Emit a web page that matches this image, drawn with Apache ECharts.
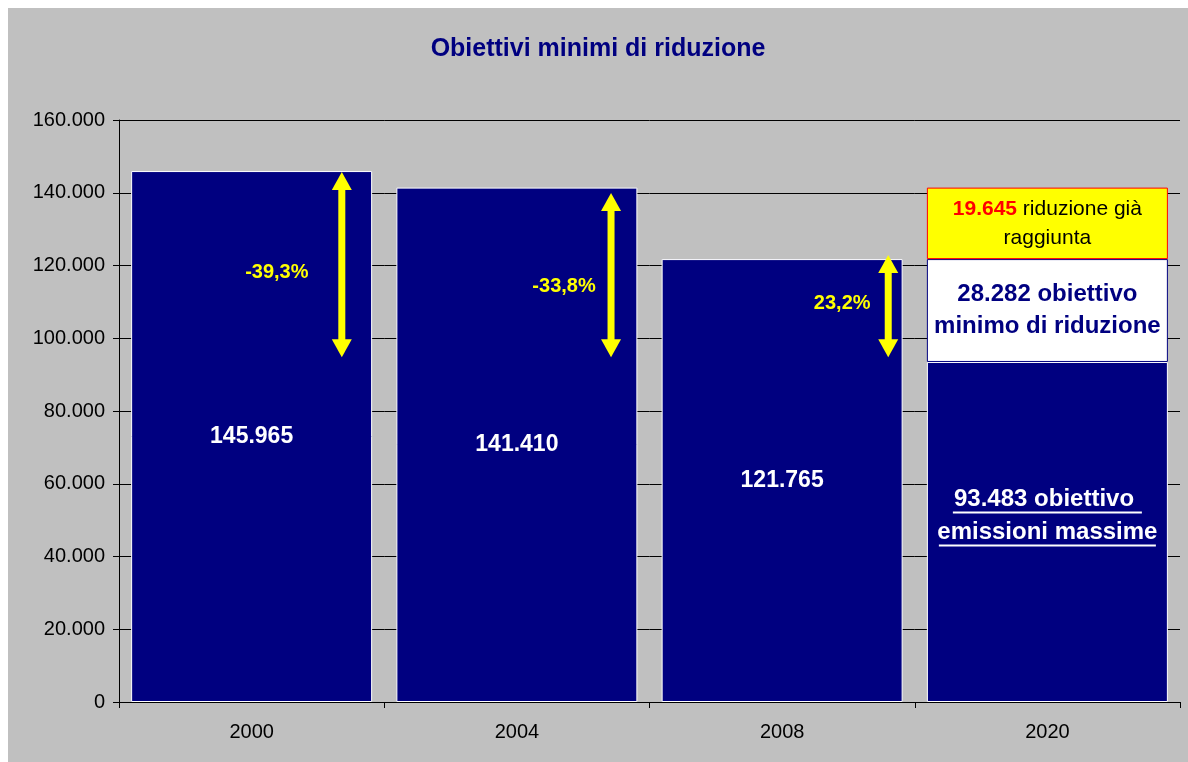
<!DOCTYPE html>
<html>
<head>
<meta charset="utf-8">
<title>Obiettivi minimi di riduzione</title>
<script src="https://cdn.jsdelivr.net/npm/echarts@6/dist/echarts.min.js"></script>
<style>
  body { margin: 0; background: #fff; }
  #main { position: absolute; left: 8px; top: 8px; width: 1180px; height: 754px; }
</style>
</head>
<body>
<div id="main"></div>
<script type="text/javascript">
// dati
var anni = ['2000', '2004', '2008', '2020'];
var emissioni = [145965, 141410, 121765, 93483];   // barre blu (2020 = obiettivo emissioni massime)
var obiettivoMinimo = [null, null, null, 28282];  // parte bianca 2020
var riduzioneGia = [null, null, null, 19645];     // parte gialla 2020
var frecciaDa = [145700, 139900, 122900];
var frecciaA = [94800, 94800, 94800];
var percentuali = ['-39,3%', '-33,8%', '23,2%'];

// posizione delle frecce dentro la barra (frazione della banda) e delle etichette
var frecciaShift = [0.34, 0.355, 0.40];
var pctOffset = [[-65, 8], [-47, 11], [-46, -3]];

var FONT = "'Liberation Sans', Arial, sans-serif";
var BLU = '#000080';

function fmt(n) {
    return String(n).replace(/\B(?=(\d{3})+(?!\d))/g, '.');
}

var frecce = [];
for (var i = 0; i < frecciaDa.length; i++) {
    frecce.push([i, frecciaDa[i], frecciaA[i], percentuali[i]]);
}

var myChart = echarts.init(document.getElementById('main'));
var option = {
    backgroundColor: '#C0C0C0',
    animation: false,
    title: {
        text: 'Obiettivi minimi di riduzione',
        left: 'center',
        top: 24,
        textStyle: { color: BLU, fontSize: 25, fontWeight: 'bold', fontFamily: FONT }
    },
    grid: { left: 111, right: 8, top: 112, bottom: 60, containLabel: false },
    xAxis: {
        type: 'category',
        data: anni,
        axisLine: { lineStyle: { color: '#000', width: 1 } },
        axisTick: { show: true, length: 6, lineStyle: { color: '#000' } },
        axisLabel: { color: '#000', fontSize: 20, fontFamily: FONT, margin: 20 }
    },
    yAxis: {
        type: 'value',
        min: 0,
        max: 160000,
        interval: 20000,
        axisLine: { show: true, lineStyle: { color: '#000', width: 1 } },
        axisTick: { show: true, length: 6, lineStyle: { color: '#000' } },
        axisLabel: {
            color: '#000', fontSize: 20, fontFamily: FONT, margin: 14,
            formatter: function (v) { return fmt(v); }
        },
        splitLine: { show: true, lineStyle: { color: '#000', width: 1 } }
    },
    series: [
        {
            type: 'bar',
            stack: 'tot',
            barWidth: 241,
            data: emissioni,
            itemStyle: { color: BLU, borderColor: '#fff', borderWidth: 1 },
            label: {
                show: true,
                position: 'inside',
                color: '#fff',
                fontSize: 23,
                fontWeight: 'bold',
                fontFamily: FONT,
                formatter: function (p) {
                    if (p.dataIndex === 3) {
                        return '{t|' + fmt(p.value) + ' obiettivo }\n{u1|}\n{t|emissioni massime}\n{u2|}';
                    }
                    return fmt(p.value);
                },
                rich: {
                    t: { color: '#fff', fontSize: 24, fontWeight: 'bold', fontFamily: FONT, lineHeight: 24 },
                    u1: { width: 189, height: 2, lineHeight: 9, backgroundColor: '#fff', verticalAlign: 'top' },
                    u2: { width: 217, height: 2, lineHeight: 4, backgroundColor: '#fff', verticalAlign: 'top' }
                }
            },
            labelLayout: function (p) {
                if (p.dataIndex === 3) {
                    return { dy: -14 };
                }
            }
        },
        {
            type: 'bar',
            stack: 'tot',
            data: obiettivoMinimo,
            itemStyle: { color: '#fff', borderColor: BLU, borderWidth: 1 },
            label: {
                show: true,
                position: 'inside',
                color: BLU,
                fontSize: 24,
                fontWeight: 'bold',
                fontFamily: FONT,
                lineHeight: 32,
                formatter: function (p) {
                    return fmt(p.value) + ' obiettivo\nminimo di riduzione';
                }
            }
        },
        {
            type: 'bar',
            stack: 'tot',
            data: riduzioneGia,
            itemStyle: { color: '#FFFF00', borderColor: '#FF0000', borderWidth: 1 },
            label: {
                show: true,
                position: 'inside',
                formatter: function (p) {
                    return '{r|' + fmt(p.value) + '}{k| riduzione già}\n{k|raggiunta}';
                },
                rich: {
                    r: { color: '#FF0000', fontSize: 21, fontWeight: 'bold', fontFamily: FONT, lineHeight: 29 },
                    k: { color: '#000', fontSize: 21, fontFamily: FONT, lineHeight: 29 }
                }
            }
        },
        {
            type: 'custom',
            data: frecce,
            z: 10,
            renderItem: function (params, api) {
                var i = params.dataIndex;
                var c = api.value(0);
                var pTop = api.coord([c, api.value(1)]);
                var pBot = api.coord([c, api.value(2)]);
                var band = api.size([1, 0])[0];
                var x = pTop[0] + band * frecciaShift[i];
                var y1 = pTop[1], y2 = pBot[1];
                var hw = 10, hh = 18, sw = 3.5;
                var yellow = { fill: '#FFFF00' };
                return {
                    type: 'group',
                    children: [
                        { type: 'rect', shape: { x: x - sw, y: y1 + hh - 1, width: sw * 2, height: (y2 - y1) - 2 * hh + 2 }, style: yellow },
                        { type: 'polygon', shape: { points: [[x, y1], [x - hw, y1 + hh], [x + hw, y1 + hh]] }, style: yellow },
                        { type: 'polygon', shape: { points: [[x, y2], [x - hw, y2 - hh], [x + hw, y2 - hh]] }, style: yellow },
                        {
                            type: 'text',
                            style: {
                                text: api.value(3),
                                x: x + pctOffset[i][0],
                                y: (y1 + y2) / 2 + pctOffset[i][1],
                                fill: '#FFFF00',
                                font: 'bold 20px ' + FONT,
                                align: 'center',
                                verticalAlign: 'middle'
                            }
                        }
                    ]
                };
            }
        }
    ]
};
myChart.setOption(option);
</script>
</body>
</html>
